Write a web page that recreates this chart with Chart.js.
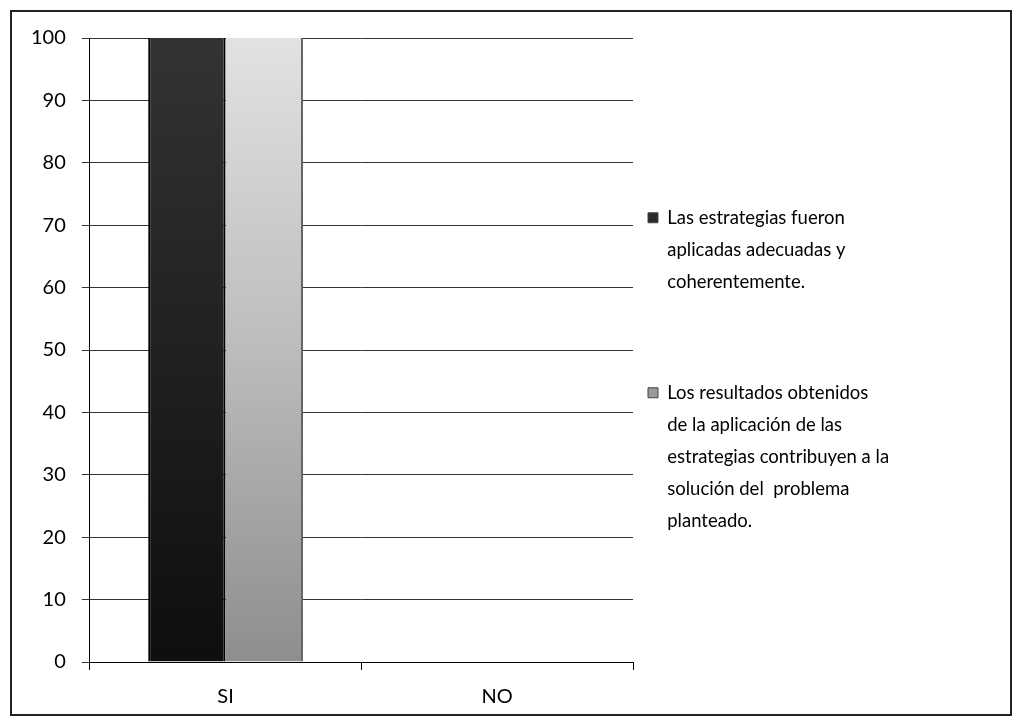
<!DOCTYPE html>
<html lang="es">
  <head>
    <meta charset="UTF-8" />
    <script src="https://cdn.jsdelivr.net/npm/chart.js@4.4.0/dist/chart.umd.min.js"></script>
    <title>Estrategias SI / NO</title>
    <style>
      body {
        margin: 0;
        background: #fff;
      }
      .frame {
        position: absolute;
        left: 10px;
        top: 10px;
        width: 998px;
        height: 702px;
        border: 2px solid #222;
      }
    </style>
  </head>
  <body>
    <div class="frame">
      <canvas id="myChart" width="998" height="702"></canvas>
    </div>

    <script>
      const categories = ["SI", "NO"];
      const seriesNames = [
        "Las estrategias fueron aplicadas adecuadas y coherentemente.",
        "Los resultados obtenidos de la aplicación de las estrategias contribuyen a la solución del  problema planteado.",
      ];
      // legend text broken the way the original wraps it
      const legendLines = [
        ["Las estrategias fueron", "aplicadas adecuadas y", "coherentemente.", "", ""],
        ["Los resultados obtenidos", "de la aplicación de las", "estrategias contribuyen a la", "solución del  problema", "planteado."],
      ];
      const estrategiasAplicadas = [100, 0];
      const resultadosObtenidos = [100, 0];
      const yTicks = [0, 10, 20, 30, 40, 50, 60, 70, 80, 90, 100];

      const font = "Lato";
      const LEGEND_WIDTH = 377;
      const LEGEND_SHIFT = -4;

      function darkFill(context) {
        const area = context.chart.chartArea;
        if (!area) return "#222";
        const g = context.chart.ctx.createLinearGradient(0, area.top, 0, area.bottom);
        g.addColorStop(0, "#333");
        g.addColorStop(1, "#0e0e0e");
        return g;
      }

      function lightFill(context) {
        const area = context.chart.chartArea;
        if (!area) return "#aaa";
        const g = context.chart.ctx.createLinearGradient(0, area.top, 0, area.bottom);
        g.addColorStop(0, "#e2e2e2");
        g.addColorStop(0.5, "#bcbcbc");
        g.addColorStop(1, "#8e8e8e");
        return g;
      }

      // the legend keeps a fixed width so the plot ends where the original does
      const fixedLegend = {
        id: "fixedLegend",
        beforeInit(chart) {
          const legend = chart.legend;
          const fit = legend.fit;
          legend.fit = function () {
            fit.call(this);
            this.width = LEGEND_WIDTH;
          };
        },
        afterLayout(chart) {
          chart.legend.top += LEGEND_SHIFT;
          chart.legend.bottom += LEGEND_SHIFT;
        },
      };

      const ctx = document.getElementById("myChart").getContext("2d");
      const myChart = new Chart(ctx, {
        type: "bar",
        data: {
          labels: categories,
          datasets: [
            {
              label: seriesNames[0],
              data: estrategiasAplicadas,
              backgroundColor: darkFill,
              borderColor: "#000",
              borderWidth: { left: 2, right: 2 },
              categoryPercentage: 0.57,
              barPercentage: 1,
            },
            {
              label: seriesNames[1],
              data: resultadosObtenidos,
              backgroundColor: lightFill,
              borderColor: "#666",
              borderWidth: { left: 0, right: 2 },
              categoryPercentage: 0.57,
              barPercentage: 1,
            },
          ],
        },
        plugins: [fixedLegend],
        options: {
          responsive: false,
          animation: false,
          layout: { padding: { left: 3, top: 24, bottom: -10, right: 0 } },
          plugins: {
            tooltip: { enabled: false },
            legend: {
              position: "right",
              align: "center",
              labels: {
                color: "#000",
                font: { family: font, size: 18.5, lineHeight: "32px" },
                boxWidth: 10,
                boxHeight: 10,
                padding: 15,
                generateLabels: (chart) =>
                  chart.data.datasets.map((ds, i) => ({
                    text: legendLines[i],
                    fillStyle: i === 0 ? "#2a2a2a" : "#9a9a9a",
                    strokeStyle: "#444",
                    lineWidth: 1,
                    datasetIndex: i,
                    hidden: false,
                  })),
              },
            },
          },
          scales: {
            x: {
              grid: {
                offset: true,
                drawOnChartArea: false,
                color: "#000",
                tickLength: 8,
              },
              border: { color: "#000", width: 1 },
              ticks: {
                color: "#000",
                padding: 15,
                font: { family: font, size: 20 },
              },
            },
            y: {
              min: 0,
              max: 100,
              afterBuildTicks: (axis) => {
                axis.ticks = yTicks.map((v) => ({ value: v }));
              },
              grid: { color: "#333", tickLength: 8 },
              border: { color: "#000", width: 1 },
              ticks: {
                color: "#000",
                padding: 16,
                font: { family: font, size: 20, lineHeight: 1 },
              },
            },
          },
        },
      });
    </script>
  </body>
</html>
